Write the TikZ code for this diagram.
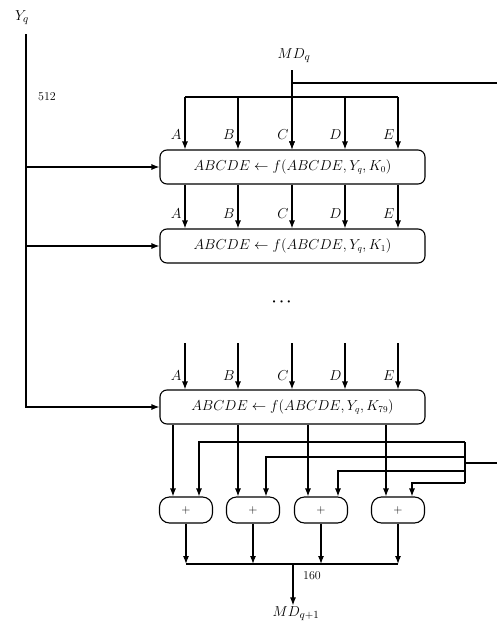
\documentclass[tikz,border=0pt]{standalone}
\usepackage{amsmath,amssymb,bm}
\usepackage{tikz}
\usetikzlibrary{arrows.meta}

\begin{document}
\begin{tikzpicture}[x=1pt, y=-1pt, line width=1.1pt, >={Latex[length=8pt,width=6pt]},
    roundbox/.style={draw, rounded corners=7pt, minimum width=265pt, minimum height=34pt, inner sep=0pt, font=\fontsize{13.5}{15}\selectfont},
    addbox/.style={draw, rounded corners=10pt, minimum width=53pt, minimum height=26pt, inner sep=0pt, font=\large},
    lbl/.style={font=\fontsize{15}{17}\selectfont, inner sep=1pt},
    num/.style={font=\fontsize{12}{14}\selectfont, inner sep=1pt}]
  \useasboundingbox (0,0) rectangle (497,627);

  \node[lbl] (Y) at (22,18) {$Y_q$};
  \node[num] (n512) at (47,97) {512};
  \node[lbl] (MDq) at (294,56) {$MD_q$};
  \node[roundbox] (r1) at (292.5,167) {$ABCDE \leftarrow f(ABCDE, Y_q, K_0)$};
  \node[roundbox] (r2) at (292.5,246) {$ABCDE \leftarrow f(ABCDE, Y_q, K_1)$};
  \node[font=\Large] (dots) at (283,302) {$\bm{\cdots}$};
  \node[roundbox] (r3) at (292.5,407) {$ABCDE \leftarrow f(ABCDE, Y_q, K_{79})$};
  \node[addbox] (a1) at (186,510) {$+$};
  \node[addbox] (a2) at (253,510) {$+$};
  \node[addbox] (a3) at (321,510) {$+$};
  \node[addbox] (a4) at (398,510) {$+$};
  \node[num] (n160) at (312,576) {160};
  \node[lbl] (MDq1) at (296,614) {$MD_{q+1}$};

  \coordinate (ytop) at (26,34);
  \draw[->] (ytop) |- (r3.west);
  \draw[->] (ytop |- r1.west) -- (r1.west);
  \draw[->] (ytop |- r2.west) -- (r2.west);

  \coordinate (mdin) at (292,70);
  \coordinate (mdout) at (497,83);
  \draw[->] (mdin) -- (r1.north -| mdin);
  \draw (mdout) -- (mdout -| mdin);
  \draw (185,97) -- (398,97);
  \foreach \x/\t in {185/A,238/B,292/C,345/D,398/E} {
    \ifx\t C\else\draw[->] (\x,97) -- (r1.north -| \x,0);\fi
    \node[lbl, anchor=east] at (\x-2,135) {$\t$};
    \draw[->] (r1.south -| \x,0) -- (r2.north -| \x,0) node[lbl, anchor=east, pos=0.65, xshift=-2pt] {$\t$};
    \draw[->] (\x,343) -- (r3.north -| \x,0) node[lbl, anchor=east, pos=0.7, xshift=-2pt] {$\t$};
  }

  \foreach \x/\a in {173/a1,238/a2,308/a3,386/a4}
    \draw[->] (r3.south -| \x,0) -- (\a.north -| \x,0);

  \coordinate (fbin) at (497,463);
  \coordinate (fbx) at (465,463);
  \draw (fbin) -- (fbx);
  \draw (465,442) -- (465,483);
  \foreach \y/\x/\a in {442/199/a1,457/266/a2,471/338/a3,483/412/a4}
    \draw[->] (fbx |- 0,\y) -| (\a.north -| \x,0);

  \foreach \a in {a1,a2,a3,a4}
    \draw[->] (\a.south) -- (\a.south |- 0,564);
  \draw (a1.south |- 0,564) -- (a4.south |- 0,564);
  \coordinate (outj) at (293,564);
  \draw[->] (outj) -- (outj |- MDq1.north);
\end{tikzpicture}
\end{document}
